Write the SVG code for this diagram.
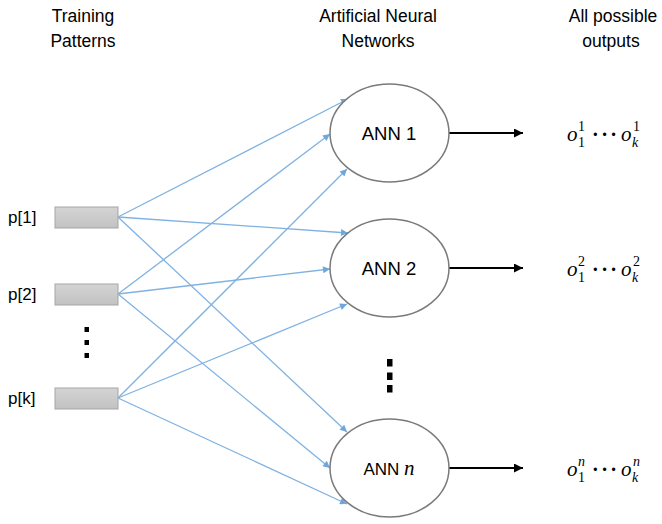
<svg xmlns="http://www.w3.org/2000/svg" width="662" height="524" viewBox="0 0 662 524">
  <style>
    .hdr { font-family: "Liberation Sans", Arial, sans-serif; font-size: 17.5px; fill: #000; text-anchor: middle; }
    .lbl { font-family: "Liberation Sans", Arial, sans-serif; font-size: 17px; fill: #000; }
    .ann { font-family: "Liberation Sans", Arial, sans-serif; font-size: 18.5px; fill: #000; text-anchor: middle; }
    .mi { font-family: "Liberation Serif", "Times New Roman", serif; font-style: italic; fill: #000; }
    .mn { font-family: "Liberation Serif", "Times New Roman", serif; fill: #000; }
    .ell { font-family: "Liberation Serif", "Times New Roman", serif; font-size: 20px; font-weight: bold; letter-spacing: 2.5px; fill: #000; }
    .pat { fill: url(#patFill); stroke: #a5a5a5; stroke-width: 1; }
    .net { fill: #fff; stroke: #7a7a7a; stroke-width: 1.5; }
    .link { stroke: #7fb2e2; stroke-width: 1.3; fill: none; marker-end: url(#blueHead); }
    .out { stroke: #000; stroke-width: 2; fill: none; marker-end: url(#blackHead); }
    .dot { fill: #000; }
  </style>
  <defs>
    <linearGradient id="patFill" x1="0" y1="0" x2="0" y2="1">
      <stop offset="0" stop-color="#d4d4d4"/>
      <stop offset="1" stop-color="#c2c2c2"/>
    </linearGradient>
    <marker id="blueHead" viewBox="0 0 10 10" refX="10" refY="5" markerWidth="10" markerHeight="7" markerUnits="userSpaceOnUse" orient="auto">
      <path d="M0,0 L10,5 L0,10 Z" fill="#6fa6dc"/>
    </marker>
    <marker id="blackHead" viewBox="0 0 10 10" refX="10" refY="5" markerWidth="10" markerHeight="9" markerUnits="userSpaceOnUse" orient="auto">
      <path d="M0,0 L10,5 L0,10 Z" fill="#000"/>
    </marker>
  </defs>

  <!-- column headings -->
  <g id="headings">
    <text class="hdr" x="83" y="22">Training</text>
    <text class="hdr" x="83" y="47">Patterns</text>
    <text class="hdr" x="378" y="22">Artificial Neural</text>
    <text class="hdr" x="378" y="47">Networks</text>
    <text class="hdr" x="613" y="22">All possible</text>
    <text class="hdr" x="611" y="47">outputs</text>
  </g>

  <!-- connectors: every pattern feeds every network -->
  <g id="connectors">
    <line class="link" x1="118" y1="217" x2="348" y2="99"/>
    <line class="link" x1="118" y1="217" x2="348" y2="233"/>
    <line class="link" x1="118" y1="217" x2="347" y2="432"/>
    <line class="link" x1="118" y1="294" x2="330" y2="134"/>
    <line class="link" x1="118" y1="294" x2="330" y2="269"/>
    <line class="link" x1="118" y1="294" x2="330" y2="468"/>
    <line class="link" x1="118" y1="398" x2="347" y2="169"/>
    <line class="link" x1="118" y1="398" x2="347" y2="304"/>
    <line class="link" x1="118" y1="398" x2="347" y2="504"/>
    <line class="out" x1="449" y1="133" x2="523" y2="133"/>
    <line class="out" x1="449" y1="268" x2="523" y2="268"/>
    <line class="out" x1="449" y1="468" x2="523" y2="468"/>
  </g>

  <!-- training patterns -->
  <g id="pattern-1">
    <rect class="pat" x="55" y="207" width="63" height="21"/>
    <text class="lbl" x="8" y="223">p[1]</text>
  </g>
  <g id="pattern-2">
    <rect class="pat" x="55" y="284" width="63" height="21"/>
    <text class="lbl" x="8" y="300">p[2]</text>
  </g>
  <g id="pattern-dots">
    <rect class="dot" x="84.5" y="327" width="4.5" height="5"/>
    <rect class="dot" x="84.5" y="340" width="4.5" height="5"/>
    <rect class="dot" x="84.5" y="353" width="4.5" height="5"/>
  </g>
  <g id="pattern-k">
    <rect class="pat" x="55" y="388" width="63" height="21"/>
    <text class="lbl" x="8" y="404">p[k]</text>
  </g>

  <!-- networks -->
  <g id="ann-1">
    <ellipse class="net" cx="389.5" cy="133" rx="59.5" ry="49"/>
    <text class="ann" x="389" y="140">ANN 1</text>
  </g>
  <g id="ann-2">
    <ellipse class="net" cx="389.5" cy="268" rx="59.5" ry="49"/>
    <text class="ann" x="389" y="275">ANN 2</text>
  </g>
  <g id="ann-dots">
    <rect class="dot" x="387" y="359" width="5.5" height="7.5"/>
    <rect class="dot" x="387" y="372.5" width="5.5" height="7.5"/>
    <rect class="dot" x="387" y="385" width="5.5" height="7.5"/>
  </g>
  <g id="ann-n">
    <ellipse class="net" cx="389.5" cy="468" rx="59.5" ry="49"/>
    <text x="389" y="475" text-anchor="middle"><tspan class="lbl" font-size="18.5">ANN </tspan><tspan class="mi" font-size="21">n</tspan></text>
  </g>

  <!-- outputs -->
  <g id="out-1">
    <text class="mi" x="567" y="141" font-size="21">o</text>
    <text class="mn" x="578" y="147" font-size="14">1</text>
    <text class="mn" x="578" y="131" font-size="14">1</text>
    <text class="ell" x="592" y="141">···</text>
    <text class="mi" x="621" y="141" font-size="21">o</text>
    <text class="mi" x="632" y="147" font-size="14">k</text>
    <text class="mn" x="633" y="131" font-size="14">1</text>
  </g>
  <g id="out-2">
    <text class="mi" x="567" y="276" font-size="21">o</text>
    <text class="mn" x="578" y="282" font-size="14">1</text>
    <text class="mn" x="578" y="266" font-size="14">2</text>
    <text class="ell" x="592" y="276">···</text>
    <text class="mi" x="621" y="276" font-size="21">o</text>
    <text class="mi" x="632" y="282" font-size="14">k</text>
    <text class="mn" x="633" y="266" font-size="14">2</text>
  </g>
  <g id="out-n">
    <text class="mi" x="567" y="476" font-size="21">o</text>
    <text class="mn" x="578" y="482" font-size="14">1</text>
    <text class="mi" x="578" y="466" font-size="14">n</text>
    <text class="ell" x="592" y="476">···</text>
    <text class="mi" x="621" y="476" font-size="21">o</text>
    <text class="mi" x="632" y="482" font-size="14">k</text>
    <text class="mi" x="633" y="466" font-size="14">n</text>
  </g>
</svg>
